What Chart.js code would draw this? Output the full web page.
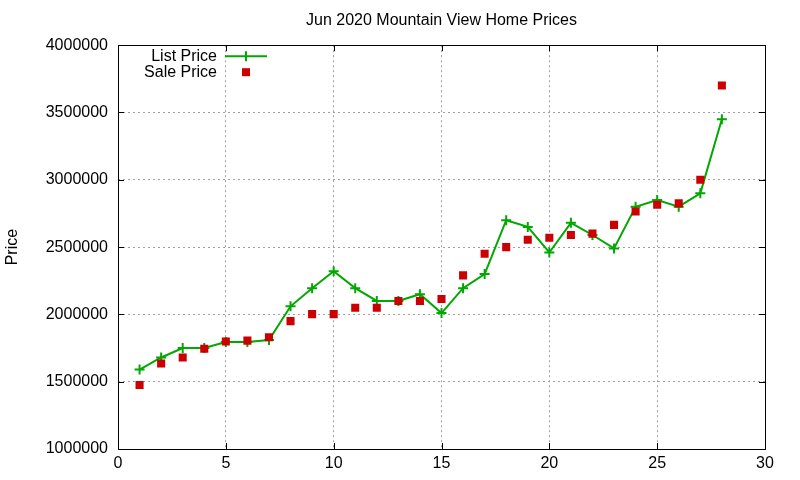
<!DOCTYPE html>
<html>
<head>
<meta charset="utf-8">
<title>Jun 2020 Mountain View Home Prices</title>
<script src="https://cdn.jsdelivr.net/npm/chart.js@4/dist/chart.umd.min.js"></script>
<style>
  html, body { margin: 0; padding: 0; background: #ffffff; }
  canvas { display: block; }
</style>
</head>
<body>
<canvas id="priceChart" width="800" height="480"></canvas>
<script>
// Jour de vente (axe x)
const days = [1, 2, 3, 4, 5, 6, 7, 8, 9, 10, 11, 12, 13, 14, 15, 16, 17, 18, 19, 20, 21, 22, 23, 24, 25, 26, 27, 28];

// Prix affichés
const listPrices = [1590000, 1680000, 1750000, 1750000, 1795000, 1795000, 1810000, 2060000, 2195000, 2320000,
                    2195000, 2100000, 2100000, 2150000, 2010000, 2195000, 2300000, 2700000, 2650000, 2460000,
                    2680000, 2590000, 2490000, 2800000, 2850000, 2800000, 2900000, 3450000];

// Prix de vente
const salePrices = [1475000, 1635000, 1680000, 1745000, 1798000, 1805000, 1830000, 1950000, 2002000, 2002000,
                    2050000, 2050000, 2100000, 2100000, 2115000, 2290000, 2450000, 2500000, 2555000, 2570000,
                    2590000, 2600000, 2665000, 2765000, 2815000, 2825000, 3000000, 3700000];

const seriesNames = ['List Price', 'Sale Price'];
const xTicks = [0, 5, 10, 15, 20, 25, 30];
const yTicks = [1000000, 1500000, 2000000, 2500000, 3000000, 3500000, 4000000];

const GREEN = '#00a800';
const RED = '#cc0000';
const FONT = '"Liberation Sans", Arial, sans-serif';

// Cadre, graduations intérieures et légende façon gnuplot
const gnuplotFrame = {
    id: 'gnuplotFrame',
    afterDraw(chart) {
        const ctx = chart.ctx;
        const area = chart.chartArea;
        const xs = chart.scales.x;
        const ys = chart.scales.y;
        const tick = 6;

        ctx.save();
        ctx.strokeStyle = '#000000';
        ctx.lineWidth = 1;
        ctx.setLineDash([]);
        ctx.beginPath();
        xTicks.forEach(v => {
            const px = Math.round(xs.getPixelForValue(v)) + 0.5;
            ctx.moveTo(px, area.bottom); ctx.lineTo(px, area.bottom - tick);
            ctx.moveTo(px, area.top); ctx.lineTo(px, area.top + tick);
        });
        yTicks.forEach(v => {
            const py = Math.round(ys.getPixelForValue(v)) + 0.5;
            ctx.moveTo(area.left, py); ctx.lineTo(area.left + tick, py);
            ctx.moveTo(area.right, py); ctx.lineTo(area.right - tick, py);
        });
        ctx.stroke();
        ctx.strokeRect(Math.round(area.left) + 0.5, Math.round(area.top) + 0.5,
                       Math.round(area.right - area.left), Math.round(area.bottom - area.top));

        // Légende
        ctx.font = '16px ' + FONT;
        ctx.fillStyle = '#000000';
        ctx.textAlign = 'right';
        ctx.textBaseline = 'middle';
        const textRight = area.left + 99;
        const sampleX = area.left + 107;
        const sampleW = 42;
        const row1 = area.top + 11;
        const row2 = area.top + 27;
        ctx.fillText(seriesNames[0], textRight, row1);
        ctx.fillText(seriesNames[1], textRight, row2);

        ctx.strokeStyle = GREEN;
        ctx.lineWidth = 2;
        ctx.beginPath();
        ctx.moveTo(sampleX, row1); ctx.lineTo(sampleX + sampleW, row1);
        const mid = sampleX + sampleW / 2;
        ctx.moveTo(mid, row1 - 5); ctx.lineTo(mid, row1 + 5);
        ctx.stroke();

        ctx.fillStyle = RED;
        ctx.fillRect(mid - 4, row2 - 4, 8, 8);
        ctx.restore();
    }
};

new Chart(document.getElementById('priceChart'), {
    type: 'scatter',
    data: {
        datasets: [{
            label: seriesNames[0],
            data: days.map((d, i) => ({ x: d, y: listPrices[i] })),
            order: 1,
            showLine: true,
            borderColor: GREEN,
            backgroundColor: GREEN,
            borderWidth: 2,
            pointStyle: 'cross',
            pointRadius: 5,
            pointBorderWidth: 2,
            pointBorderColor: GREEN,
            tension: 0
        }, {
            label: seriesNames[1],
            data: days.map((d, i) => ({ x: d, y: salePrices[i] })),
            order: 0,
            showLine: false,
            pointStyle: 'rect',
            pointRadius: 5.7,
            pointBorderWidth: 0,
            backgroundColor: RED,
            borderColor: RED
        }]
    },
    options: {
        responsive: false,
        animation: false,
        devicePixelRatio: 1,
        layout: { padding: { left: 0, right: 35, top: 0, bottom: 0 } },
        plugins: {
            legend: { display: false },
            tooltip: { enabled: false },
            title: {
                display: true,
                text: 'Jun 2020 Mountain View Home Prices',
                fullSize: false,
                color: '#000000',
                font: { family: FONT, size: 16, weight: 'normal' },
                padding: { top: 11, bottom: 15 }
            }
        },
        scales: {
            x: {
                type: 'linear',
                min: 0,
                max: 30,
                afterFit: scale => { scale.height = 31; },
                afterBuildTicks: scale => { scale.ticks = xTicks.map(v => ({ value: v })); },
                ticks: {
                    color: '#000000',
                    font: { family: FONT, size: 16 },
                    padding: 5,
                    maxRotation: 0
                },
                grid: { color: '#a0a0a0', lineWidth: 1, drawTicks: false },
                border: { display: false, dash: [2, 3] }
            },
            y: {
                type: 'linear',
                min: 1000000,
                max: 4000000,
                afterFit: scale => { scale.width = 118; },
                afterBuildTicks: scale => { scale.ticks = yTicks.map(v => ({ value: v })); },
                ticks: {
                    color: '#000000',
                    font: { family: FONT, size: 16 },
                    padding: 10,
                    callback: v => String(v)
                },
                title: {
                    display: true,
                    text: 'Price',
                    color: '#000000',
                    font: { family: FONT, size: 16 },
                    padding: { top: 3, bottom: 0 }
                },
                grid: { color: '#a0a0a0', lineWidth: 1, drawTicks: false },
                border: { display: false, dash: [2, 3] }
            }
        }
    },
    plugins: [gnuplotFrame]
});
</script>
</body>
</html>
